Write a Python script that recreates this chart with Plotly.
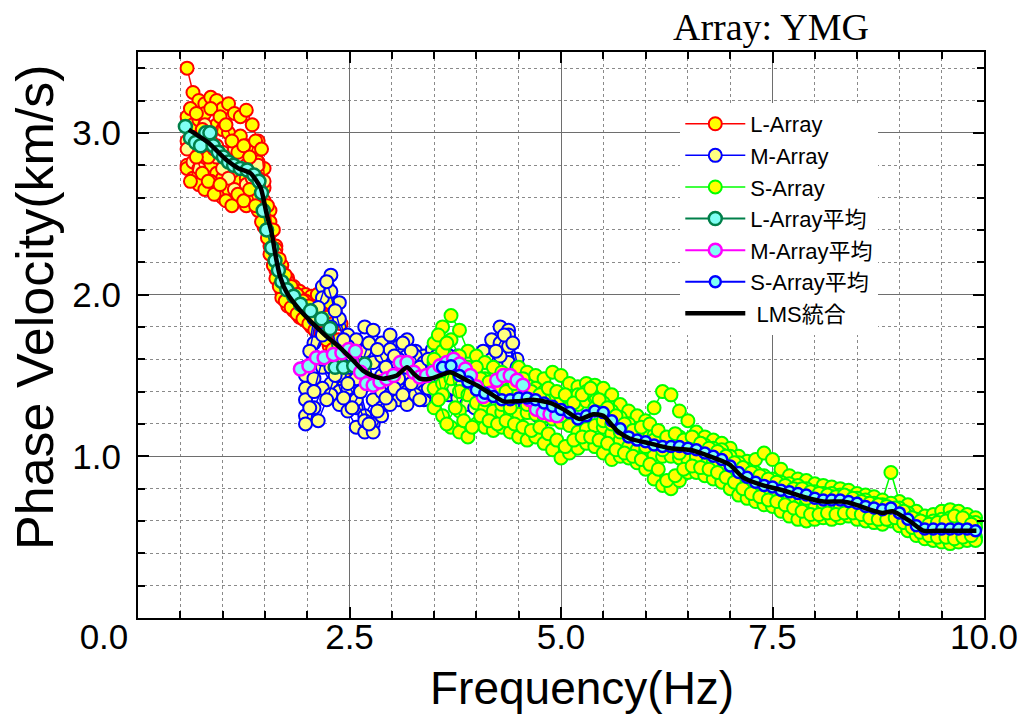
import plotly.graph_objects as go

# ---------------- data ----------------
L_freq = [0.58, 0.65, 0.72, 0.79, 0.86, 0.93, 1.00, 1.07, 1.14, 1.21, 1.28, 1.35, 1.42, 1.49,
          1.56, 1.63, 1.70, 1.77, 1.84, 1.91, 1.98, 2.05, 2.12, 2.19, 2.26, 2.33, 2.40]
L_freq_b = [0.62, 0.69, 0.76, 0.83, 0.90, 0.97, 1.04, 1.11, 1.18, 1.25, 1.32, 1.39, 1.46, 1.53,
            1.60, 1.67, 1.74, 1.81, 1.88, 1.95, 2.02, 2.09, 2.16, 2.23, 2.30, 2.37, 2.44]
L_vel_1 = [3.40, 3.25, 3.20, 3.18, 3.22, 3.20, 3.15, 3.18, 3.12, 3.10, 3.14, 3.05, 2.95, 2.78,
           2.52, 2.30, 2.18, 2.10, 2.05, 2.02, 2.00, 1.99, 2.00, 1.97, 1.95, 1.90, 1.82]
L_vel_2 = [3.10, 3.05, 3.08, 3.12, 3.15, 3.05, 3.02, 3.00, 2.95, 2.98, 2.92, 2.88, 2.82, 2.66,
           2.45, 2.28, 2.12, 2.06, 2.02, 1.98, 1.96, 1.93, 1.90, 1.88, 1.80, 1.68, 1.60]
L_vel_3 = [2.95, 2.90, 2.85, 2.95, 3.00, 2.92, 2.88, 2.85, 2.90, 2.82, 2.80, 2.78, 2.72, 2.58,
           2.38, 2.22, 2.08, 2.02, 1.98, 1.95, 1.92, 1.90, 1.86, 1.83, 1.78, 1.62, 1.55]
L_vel_4 = [2.80, 2.75, 2.82, 2.88, 2.80, 2.75, 2.72, 2.68, 2.75, 2.70, 2.72, 2.68, 2.62, 2.48,
           2.30, 2.15, 2.02, 1.98, 1.95, 1.90, 1.88, 1.86, 1.82, 1.78, 1.72, 1.58, 1.50]
L_vel_5 = [2.78, 2.72, 2.68, 2.65, 2.70, 2.62, 2.60, 2.65, 2.58, 2.62, 2.55, 2.60, 2.52, 2.42,
           2.25, 2.10, 1.98, 1.93, 1.90, 1.86, 1.84, 1.80, 1.78, 1.74, 1.68, 1.55, 1.48]
L_vel_6 = [2.90, 2.82, 2.78, 3.05, 2.95, 2.85, 2.78, 2.72, 2.65, 2.60, 2.68, 2.72, 2.80, 2.70,
           2.40, 2.25, 2.14, 2.08, 2.00, 1.96, 1.90, 1.85, 1.80, 1.76, 1.74, 1.65, 1.58]
L_vel_7 = [3.15, 3.12, 3.02, 2.85, 2.90, 3.10, 3.05, 2.95, 2.88, 2.92, 2.85, 2.95, 2.90, 2.55,
           2.40, 2.22, 2.12, 2.05, 2.00, 1.96, 1.93, 1.90, 1.88, 1.86, 1.82, 1.72, 1.62]
L_vel_8 = [2.70, 2.85, 2.75, 2.70, 2.62, 2.68, 2.58, 2.55, 2.62, 2.58, 2.65, 2.55, 2.45, 2.35,
           2.18, 2.05, 1.96, 1.92, 1.88, 1.85, 1.82, 1.78, 1.76, 1.72, 1.66, 1.58, 1.52]

M_freq = [1.98, 2.08, 2.18, 2.28, 2.38, 2.48, 2.58, 2.68, 2.78, 2.88, 2.98, 3.08, 3.18, 3.28, 3.38,
          3.48, 3.58, 3.68, 3.78, 3.88, 3.98, 4.08, 4.18, 4.28, 4.38, 4.48, 4.58, 4.68, 4.78]
M_freq_b = [2.03, 2.13, 2.23, 2.33, 2.43, 2.53, 2.63, 2.73, 2.83, 2.93, 3.03, 3.13, 3.23, 3.33,
            3.43, 3.53, 3.63, 3.73, 3.83, 3.93, 4.03, 4.13, 4.23, 4.33, 4.43, 4.53, 4.63, 4.73]
M_vel_1 = [1.55, 1.85, 2.05, 2.12, 1.95, 1.75, 1.72, 1.80, 1.78, 1.70, 1.75, 1.68, 1.72, 1.65, 1.62,
           1.66, 1.60, 1.62, 1.58, 1.55, 1.60, 1.65, 1.72, 1.80, 1.78, 1.60, 1.52, 1.45, 1.40]
M_vel_2 = [1.50, 1.70, 1.98, 2.02, 1.85, 1.68, 1.60, 1.65, 1.58, 1.62, 1.66, 1.60, 1.55, 1.58, 1.52,
           1.55, 1.58, 1.55, 1.62, 1.52, 1.50, 1.55, 1.60, 1.70, 1.75, 1.52, 1.45, 1.40, 1.32]
M_vel_3 = [1.42, 1.62, 1.75, 1.80, 1.62, 1.55, 1.48, 1.52, 1.45, 1.50, 1.56, 1.52, 1.48, 1.50, 1.46,
           1.48, 1.52, 1.50, 1.48, 1.45, 1.42, 1.48, 1.52, 1.55, 1.58, 1.48, 1.40, 1.35, 1.28]
M_vel_4 = [1.35, 1.48, 1.55, 1.45, 1.40, 1.42, 1.30, 1.25, 1.35, 1.40, 1.45, 1.42, 1.40, 1.44, 1.40,
           1.42, 1.45, 1.48, 1.42, 1.38, 1.36, 1.40, 1.45, 1.48, 1.42, 1.38, 1.32, 1.28, 1.25]
M_vel_5 = [1.25, 1.30, 1.42, 1.38, 1.32, 1.28, 1.18, 1.15, 1.20, 1.30, 1.38, 1.35, 1.32, 1.38, 1.35,
           1.40, 1.42, 1.38, 1.36, 1.32, 1.30, 1.35, 1.38, 1.42, 1.36, 1.32, 1.28, 1.24, 1.22]
M_vel_6 = [1.20, 1.40, 1.60, 1.55, 1.50, 1.45, 1.35, 1.22, 1.15, 1.25, 1.32, 1.48, 1.55, 1.62, 1.58,
           1.52, 1.48, 1.45, 1.52, 1.58, 1.55, 1.45, 1.40, 1.62, 1.68, 1.55, 1.36, 1.30, 1.25]
M_vel_7 = [1.65, 1.92, 2.08, 1.90, 1.72, 1.62, 1.55, 1.70, 1.66, 1.55, 1.62, 1.70, 1.65, 1.55,
           1.60, 1.62, 1.55, 1.50, 1.55, 1.62, 1.58, 1.52, 1.65, 1.75, 1.70, 1.45, 1.42, 1.36]
M_vel_8 = [1.30, 1.22, 1.35, 1.50, 1.36, 1.30, 1.40, 1.20, 1.28, 1.36, 1.42, 1.38, 1.45, 1.35,
           1.42, 1.38, 1.40, 1.42, 1.46, 1.40, 1.38, 1.42, 1.35, 1.40, 1.32, 1.26, 1.22, 1.25]

S_freq = [3.5, 3.6, 3.7, 3.8, 3.9, 4.0, 4.1, 4.2, 4.3, 4.4, 4.5, 4.6, 4.7, 4.8, 4.9, 5.0, 5.1,
          5.2, 5.3, 5.4, 5.5, 5.6, 5.7, 5.8, 5.9, 6.0, 6.1, 6.2, 6.3, 6.4, 6.5, 6.6, 6.7, 6.8,
          6.9, 7.0, 7.1, 7.2, 7.3, 7.4, 7.5, 7.6, 7.7, 7.8, 7.9, 8.0, 8.1, 8.2, 8.3, 8.4, 8.5,
          8.6, 8.7, 8.8, 8.9, 9.0, 9.1, 9.2, 9.3, 9.4, 9.5, 9.6, 9.7, 9.8, 9.9]
S_freq_b = [3.55, 3.65, 3.75, 3.85, 3.95, 4.05, 4.15, 4.25, 4.35, 4.45, 4.55, 4.65, 4.75, 4.85,
            4.95, 5.05, 5.15, 5.25, 5.35, 5.45, 5.55, 5.65, 5.75, 5.85, 5.95, 6.05, 6.15, 6.25,
            6.35, 6.45, 6.55, 6.65, 6.75, 6.85, 6.95, 7.05, 7.15, 7.25, 7.35, 7.45, 7.55, 7.65,
            7.75, 7.85, 7.95, 8.05, 8.15, 8.25, 8.35, 8.45, 8.55, 8.65, 8.75, 8.85, 8.95, 9.05,
            9.15, 9.25, 9.35, 9.45, 9.55, 9.65, 9.75, 9.85]
S_vel_1 = [1.70, 1.80, 1.87, 1.78, 1.65, 1.62, 1.58, 1.55, 1.52, 1.50,
           1.55, 1.52, 1.50, 1.48, 1.52, 1.50, 1.45, 1.43, 1.45, 1.44,
           1.42, 1.38, 1.32, 1.28, 1.25, 1.22, 1.30, 1.40, 1.38, 1.28,
           1.22, 1.15, 1.12, 1.10, 1.08, 1.05, 1.00, 0.97, 0.98, 1.02,
           0.98, 0.92, 0.88, 0.86, 0.85, 0.83, 0.82, 0.81, 0.80, 0.79,
           0.77, 0.76, 0.75, 0.73, 0.90, 0.72, 0.70, 0.66, 0.63, 0.64,
           0.66, 0.67, 0.66, 0.64, 0.62]
S_vel_2 = [1.58, 1.65, 1.72, 1.62, 1.55, 1.50, 1.48, 1.45, 1.44, 1.42,
           1.45, 1.44, 1.42, 1.40, 1.38, 1.36, 1.35, 1.32, 1.34, 1.36,
           1.33, 1.28, 1.24, 1.18, 1.16, 1.15, 1.13, 1.12, 1.11, 1.12,
           1.10, 1.09, 1.07, 1.05, 1.04, 1.00, 0.96, 0.92, 0.90, 0.88,
           0.86, 0.84, 0.83, 0.82, 0.80, 0.78, 0.77, 0.77, 0.76, 0.75,
           0.74, 0.73, 0.71, 0.70, 0.71, 0.68, 0.65, 0.61, 0.59, 0.60,
           0.61, 0.62, 0.61, 0.60, 0.59]
S_vel_3 = [1.42, 1.45, 1.48, 1.40, 1.38, 1.33, 1.30, 1.28, 1.27, 1.28,
           1.26, 1.27, 1.26, 1.25, 1.23, 1.21, 1.19, 1.15, 1.17, 1.19,
           1.18, 1.14, 1.10, 1.06, 1.04, 1.03, 1.01, 1.00, 1.00, 0.99,
           0.98, 0.98, 0.96, 0.94, 0.92, 0.88, 0.84, 0.82, 0.79, 0.77,
           0.76, 0.74, 0.73, 0.72, 0.71, 0.70, 0.69, 0.68, 0.68, 0.68,
           0.67, 0.65, 0.64, 0.63, 0.64, 0.61, 0.58, 0.54, 0.52, 0.51,
           0.52, 0.51, 0.52, 0.51, 0.50]
S_vel_4 = [1.30, 1.25, 1.18, 1.15, 1.12, 1.20, 1.18, 1.16, 1.18, 1.15,
           1.12, 1.10, 1.12, 1.08, 1.04, 0.99, 1.02, 1.05, 1.08, 1.06,
           1.02, 0.98, 1.00, 0.99, 0.96, 0.92, 0.86, 0.82, 0.80, 0.85,
           0.90, 0.90, 0.88, 0.86, 0.84, 0.80, 0.76, 0.74, 0.72, 0.70,
           0.69, 0.66, 0.63, 0.61, 0.60, 0.61, 0.62, 0.61, 0.62, 0.63,
           0.61, 0.60, 0.59, 0.58, 0.60, 0.57, 0.54, 0.51, 0.49, 0.48,
           0.47, 0.46, 0.47, 0.48, 0.48]
S_vel_5 = [1.60, 1.38, 1.55, 1.28, 1.48, 1.55, 1.35, 1.40, 1.32, 1.30,
           1.40, 1.32, 1.30, 1.35, 1.28, 1.25, 1.30, 1.38, 1.40, 1.30,
           1.22, 1.20, 1.15, 1.20, 1.14, 1.06, 1.10, 1.04, 1.08, 1.02,
           1.06, 1.00, 1.04, 0.97, 1.01, 0.96, 0.88, 0.90, 0.86, 0.80,
           0.84, 0.81, 0.75, 0.79, 0.74, 0.76, 0.71, 0.75, 0.70, 0.74,
           0.69, 0.71, 0.66, 0.69, 0.66, 0.63, 0.63, 0.58, 0.57, 0.53,
           0.57, 0.58, 0.54, 0.57, 0.56]
S_vel_6 = [1.75, 1.70, 1.58, 1.50, 1.45, 1.48, 1.46, 1.42, 1.40, 1.45,
           1.48, 1.40, 1.38, 1.42, 1.40, 1.38, 1.33, 1.38, 1.42, 1.35,
           1.30, 1.25, 1.20, 1.16, 1.18, 1.20, 1.16, 1.12, 1.14, 1.10,
           1.12, 1.08, 1.05, 1.03, 1.00, 0.96, 0.93, 0.90, 0.88, 0.86,
           0.84, 0.82, 0.80, 0.80, 0.78, 0.77, 0.76, 0.75, 0.76, 0.74,
           0.72, 0.71, 0.70, 0.69, 0.68, 0.66, 0.62, 0.60, 0.58, 0.59,
           0.60, 0.63, 0.62, 0.58]
S_vel_7 = [1.35, 1.20, 1.30, 1.22, 1.18, 1.25, 1.22, 1.20, 1.22, 1.20,
           1.18, 1.16, 1.18, 1.14, 1.10, 1.06, 1.10, 1.12, 1.12, 1.10,
           1.08, 1.04, 1.02, 1.00, 0.98, 0.95, 0.92, 0.85, 0.88, 0.92,
           0.94, 0.93, 0.92, 0.90, 0.87, 0.84, 0.80, 0.77, 0.75, 0.73,
           0.72, 0.70, 0.68, 0.66, 0.64, 0.64, 0.65, 0.64, 0.65, 0.65,
           0.64, 0.62, 0.61, 0.61, 0.62, 0.59, 0.56, 0.53, 0.51, 0.50,
           0.50, 0.49, 0.50, 0.51]

L_avg_freq = [0.56, 0.62, 0.68, 0.74, 0.80, 0.85, 0.89, 0.95, 1.01, 1.07, 1.13, 1.21, 1.29, 1.37,
              1.43, 1.46, 1.48, 1.52, 1.58, 1.62, 1.66, 1.70, 1.76, 1.84, 1.92, 2.04, 2.17, 2.27,
              2.33, 2.43, 2.55, 2.68]
L_avg_vel = [3.04, 2.97, 2.94, 2.92, 3.00, 3.00, 2.92, 2.88, 2.85, 2.82, 2.80, 2.78, 2.77, 2.74,
             2.70, 2.63, 2.52, 2.40, 2.29, 2.21, 2.15, 2.08, 2.03, 1.99, 1.94, 1.90, 1.85, 1.79,
             1.55, 1.55, 1.56, 1.57]

M_avg_freq = [1.92, 2.02, 2.11, 2.20, 2.31, 2.41, 2.49, 2.57, 2.63, 2.70, 2.78, 2.86, 2.94, 3.02,
              3.10, 3.18, 3.26, 3.33, 3.41, 3.49, 3.57, 3.65, 3.73, 3.80, 3.87, 3.93, 4.00, 4.08,
              4.16, 4.24, 4.32, 4.40, 4.48, 4.55, 4.63, 4.71, 4.79, 4.87, 4.95]
M_avg_vel = [1.54, 1.56, 1.61, 1.61, 1.63, 1.64, 1.66, 1.65, 1.52, 1.45, 1.44, 1.46, 1.48, 1.50,
             1.58, 1.58, 1.52, 1.49, 1.50, 1.52, 1.56, 1.58, 1.60, 1.57, 1.54, 1.50, 1.43, 1.37,
             1.39, 1.47, 1.50, 1.50, 1.47, 1.44, 1.35, 1.29, 1.27, 1.26, 1.25]

S_avg_freq = [3.6, 3.7, 3.8, 3.9, 4.0, 4.1, 4.2, 4.3, 4.4, 4.5, 4.6, 4.7, 4.8, 4.9, 5.0, 5.1,
              5.2, 5.3, 5.4, 5.5, 5.6, 5.7, 5.8, 5.9, 6.0, 6.1, 6.2, 6.3, 6.4, 6.5, 6.6, 6.7, 6.8,
              6.9, 7.0, 7.1, 7.2, 7.3, 7.4, 7.5, 7.6, 7.7, 7.8, 7.9, 8.0, 8.1, 8.2, 8.3, 8.4, 8.5,
              8.6, 8.7, 8.8, 8.9, 9.0, 9.1, 9.2, 9.3, 9.4, 9.5, 9.6, 9.7, 9.8, 9.9]
S_avg_vel = [1.55, 1.56, 1.50, 1.46, 1.41, 1.39, 1.37, 1.35, 1.35,
             1.36, 1.36, 1.35, 1.33, 1.31, 1.29, 1.27, 1.23, 1.25, 1.28,
             1.27, 1.22, 1.17, 1.12, 1.10, 1.09, 1.07, 1.06, 1.06, 1.06,
             1.05, 1.04, 1.02, 1.00, 0.98, 0.94, 0.90, 0.87, 0.84, 0.82,
             0.81, 0.79, 0.78, 0.77, 0.76, 0.74, 0.73, 0.73, 0.73, 0.72,
             0.71, 0.69, 0.68, 0.67, 0.68, 0.65, 0.61, 0.57, 0.55, 0.55,
             0.55, 0.55, 0.55, 0.55, 0.54]

LMS_freq = [0.60, 0.83, 1.05, 1.19, 1.33, 1.45, 1.52, 1.58, 1.63, 1.68, 1.76, 1.92, 2.07, 2.23,
            2.35, 2.51, 2.66, 2.82, 2.90, 3.06, 3.18, 3.26, 3.33, 3.45, 3.57, 3.69, 3.85, 4.00,
            4.16, 4.32, 4.48, 4.67, 4.87, 5.03, 5.22, 5.38, 5.50, 5.66, 5.81, 6.05, 6.29, 6.52,
            6.76, 6.99, 7.15, 7.39, 7.62, 7.86, 8.10, 8.33, 8.49, 8.65, 8.80, 8.92, 9.12, 9.28,
            9.51, 9.91]
LMS_vel = [3.02, 2.94, 2.83, 2.78, 2.75, 2.66, 2.50, 2.38, 2.23, 2.11, 2.01, 1.90, 1.82, 1.74,
           1.69, 1.61, 1.53, 1.49, 1.48, 1.50, 1.55, 1.51, 1.48, 1.48, 1.50, 1.52, 1.48, 1.44,
           1.39, 1.34, 1.34, 1.35, 1.33, 1.29, 1.23, 1.26, 1.25, 1.16, 1.11, 1.08, 1.05, 1.04,
           1.00, 0.95, 0.87, 0.82, 0.79, 0.75, 0.72, 0.72, 0.70, 0.67, 0.65, 0.66, 0.60, 0.54,
           0.54, 0.54]

x_tick_vals = [0, 2.5, 5, 7.5, 10]
# the first label sits left of the frame in the reference; trailing no-break spaces shift it
x_tick_text = ["0.0" + "\u00a0" * 7, "2.5", "5.0", "7.5", "10.0"]
y_tick_vals = [1, 2, 3]
y_tick_text = ["1.0", "2.0", "3.0"]

# ---------------- figure ----------------
fig = go.Figure()

def add_raw(curves, name, edge, fills):
    for i, (freq, vel) in enumerate(curves):
        fig.add_trace(go.Scatter(
            x=freq, y=vel, mode="lines+markers", name=name, legendgroup=name,
            showlegend=(i == 0),
            line=dict(color=edge, width=1.5),
            marker=dict(symbol="circle", size=13, color=fills[i % len(fills)],
                        line=dict(color=edge, width=2)),
        ))

add_raw([(L_freq, L_vel_1), (L_freq, L_vel_2), (L_freq, L_vel_3), (L_freq, L_vel_4),
         (L_freq, L_vel_5), (L_freq, L_vel_6), (L_freq_b, L_vel_7), (L_freq_b, L_vel_8)],
        "L-Array", "#FF0000",
        ["#FFFF00", "#FFFF00", "#FFFF8C", "#FFFF00", "#FFFF00", "#FFFF8C", "#FFFF00", "#FFFF00"])
add_raw([(M_freq, M_vel_1), (M_freq, M_vel_2), (M_freq, M_vel_3), (M_freq, M_vel_4),
         (M_freq, M_vel_5), (M_freq, M_vel_6), (M_freq_b, M_vel_7), (M_freq_b, M_vel_8)],
        "M-Array", "#0000FF", ["#FFFF80"])
add_raw([(S_freq, S_vel_1), (S_freq, S_vel_2), (S_freq, S_vel_3), (S_freq, S_vel_4),
         (S_freq, S_vel_5), (S_freq_b, S_vel_6), (S_freq_b, S_vel_7)],
        "S-Array", "#00FF00", ["#FFFF00"])

def add_avg(freq, vel, name, edge, size):
    fig.add_trace(go.Scatter(
        x=freq, y=vel, mode="lines+markers", name=name, legendgroup=name,
        line=dict(color=edge, width=2),
        marker=dict(symbol="circle", size=size, color="#7FFFF4",
                    line=dict(color=edge, width=2.5)),
    ))

add_avg(L_avg_freq, L_avg_vel, "L-Array平均", "#00804A", 13)
add_avg(M_avg_freq, M_avg_vel, "M-Array平均", "#FF00FF", 13)
add_avg(S_avg_freq, S_avg_vel, "S-Array平均", "#0000FF", 11)

fig.add_trace(go.Scatter(
    x=LMS_freq, y=LMS_vel, mode="lines", name=" LMS統合", legendgroup="LMS",
    line=dict(color="black", width=4.5, shape="spline", smoothing=0.6),
))

axis_common = dict(
    ticks="inside", ticklen=11, tickwidth=1.5, tickcolor="black",
    showline=True, linecolor="black", linewidth=2, mirror="allticks",
    showgrid=True, gridcolor="#6E6E6E", gridwidth=1, zeroline=False,
    tickfont=dict(family="Liberation Sans, Arial, sans-serif", size=35, color="black"),
)

fig.update_xaxes(
    range=[0, 10], tickmode="array", tickvals=x_tick_vals, ticktext=x_tick_text,
    ticklabelstandoff=-13,
    minor=dict(tickmode="linear", tick0=0, dtick=0.5, ticks="inside", ticklen=7,
               tickwidth=1.5, tickcolor="black", showgrid=True, gridcolor="#8A8A8A",
               griddash="dot", gridwidth=1),
    **axis_common,
)
fig.update_yaxes(
    range=[0, 3.5], tickmode="array", tickvals=y_tick_vals, ticktext=y_tick_text,
    ticklabelstandoff=8,
    minor=dict(tickmode="linear", tick0=0, dtick=0.2, ticks="inside", ticklen=7,
               tickwidth=1.5, tickcolor="black", showgrid=True, gridcolor="#8A8A8A",
               griddash="dot", gridwidth=1),
    **axis_common,
)

fig.update_layout(
    width=1033, height=719,
    margin=dict(l=138, r=49, t=52, b=101),
    paper_bgcolor="white", plot_bgcolor="white",
    showlegend=True,
    legend=dict(
        x=0.641, y=0.91, xanchor="left", yanchor="top",
        bgcolor="white", borderwidth=0, tracegroupgap=0, itemwidth=60,
        font=dict(family="Liberation Sans, Noto Sans CJK JP, sans-serif", size=22, color="black"),
    ),
    annotations=[
        dict(text="Array: YMG", xref="paper", yref="paper", x=0.748, y=1.044,
             xanchor="center", yanchor="middle", showarrow=False,
             font=dict(family="Liberation Serif, Times New Roman, serif", size=38, color="black")),
        dict(text="Frequency(Hz)", xref="paper", yref="paper", x=0.525, y=-0.124,
             xanchor="center", yanchor="middle", showarrow=False,
             font=dict(family="Liberation Sans, Arial, sans-serif", size=46, color="black")),
        dict(text="Phase Velocity(km/s)", xref="paper", yref="paper", x=-0.121, y=0.549,
             xanchor="center", yanchor="middle", showarrow=False, textangle=-90,
             font=dict(family="Liberation Sans, Arial, sans-serif", size=52, color="black")),
    ],
)

fig.write_html("out.html")
